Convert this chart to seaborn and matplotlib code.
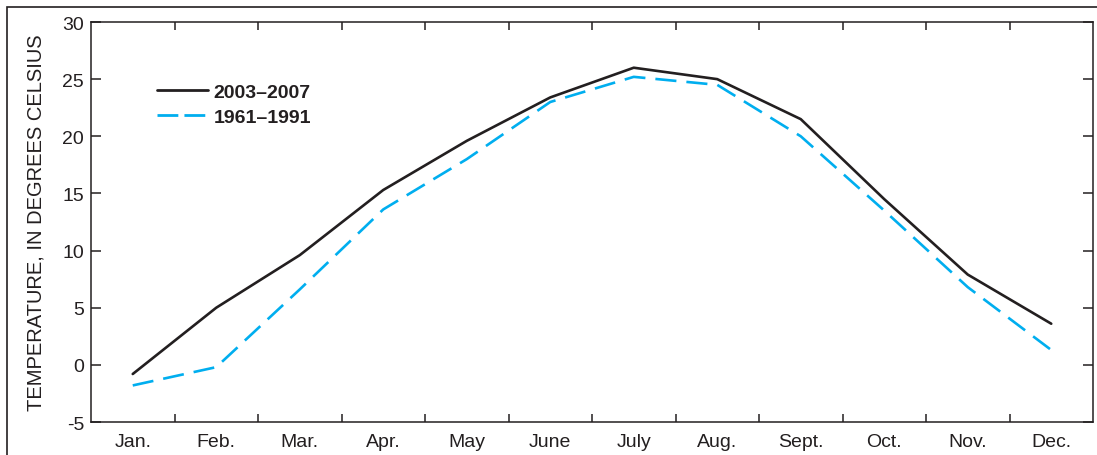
import matplotlib
matplotlib.use("Agg")
import matplotlib.pyplot as plt
import seaborn as sns
import pandas as pd
import numpy as np
from matplotlib.patches import Rectangle
from matplotlib import font_manager

months = ["Jan.", "Feb.", "Mar.", "Apr.", "May", "June", "July", "Aug.", "Sept.", "Oct.", "Nov.", "Dec."]
recent = [-0.8, 5.0, 9.6, 15.3, 19.6, 23.4, 26.0, 25.0, 21.5, 14.5, 7.9, 3.6]
normal = [-1.8, -0.2, 6.6, 13.6, 18.0, 23.0, 25.2, 24.5, 20.0, 13.5, 6.8, 1.3]
series_names = ["2003\u20132007", "1961\u20131991"]
y_ticks = [-5, 0, 5, 10, 15, 20, 25, 30]

sns.set_theme(style="white")
names = {f.name for f in font_manager.fontManager.ttflist}
fam = "Liberation Sans Narrow" if "Liberation Sans Narrow" in names else "Liberation Sans"
plt.rcParams["font.family"] = [fam, "DejaVu Sans"]

ink = "#231f20"
blue = "#00aeef"

df = pd.DataFrame({
    "idx": list(range(12)) * 2,
    "temp": recent + normal,
    "series": [series_names[0]] * 12 + [series_names[1]] * 12,
})

fig = plt.figure(figsize=(10.97, 4.56), dpi=100)
ax = fig.add_axes([91 / 1097, 1 - 423 / 456, 1002 / 1097, 400 / 456])

sns.lineplot(data=df[df.series == series_names[0]], x="idx", y="temp", ax=ax,
             color=ink, lw=1.9, label=series_names[0])
sns.lineplot(data=df[df.series == series_names[1]], x="idx", y="temp", ax=ax,
             color=blue, lw=1.9, label=series_names[1], dashes=False)
ax.lines[1].set_dashes((8, 3.8))

ax.set_xlim(-0.5, 11.5)
ax.set_ylim(-5, 30)
ax.set_yticks(y_ticks)
ax.set_yticklabels([str(v) for v in y_ticks], fontsize=14, color=ink)
ax.set_xticks(range(12))
ax.set_xticklabels(months, fontsize=14, color=ink)
ax.set_xticks(np.arange(0.5, 11.5, 1.0), minor=True)
ax.tick_params(axis="x", which="major", length=0, pad=8)
ax.tick_params(axis="x", which="minor", direction="in", length=6, width=1.1,
               color=ink, top=True, bottom=True)
ax.tick_params(axis="y", which="major", direction="in", length=7, width=1.1,
               color=ink, left=True, right=True, pad=5)
ax.set_xlabel("")
ax.set_ylabel("TEMPERATURE, IN DEGREES CELSIUS", fontsize=14.5, color=ink, labelpad=12)

for s in ax.spines.values():
    s.set_color(ink)
    s.set_linewidth(1.1)

leg = ax.legend(loc="upper left", bbox_to_anchor=(0.066, 0.847), frameon=False,
                borderpad=0, borderaxespad=0,
                handlelength=2.6, handletextpad=0.3, labelspacing=0.4,
                prop={"family": [fam, "DejaVu Sans"], "weight": "bold", "size": 14})
for t in leg.get_texts():
    t.set_color(ink)
for ln in leg.get_lines():
    ln.set_linewidth(2.0)
leg.get_lines()[1].set_dashes((7.5, 2.2))

fig.patches.append(Rectangle((7 / 1097, -0.1), 1.2, (456 - 8) / 456 + 0.1,
                             transform=fig.transFigure, fill=False,
                             edgecolor=ink, linewidth=1.2, zorder=-1))

fig.savefig("out.png", dpi=100)
